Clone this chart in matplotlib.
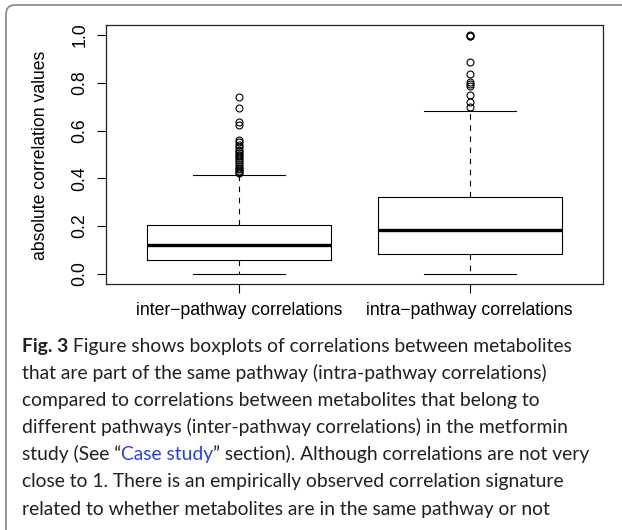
import matplotlib
matplotlib.use("Agg")
import matplotlib.pyplot as plt
from matplotlib.patches import FancyBboxPatch

# box statistics for the two groups
groups = ["inter\u2212pathway correlations", "intra\u2212pathway correlations"]
q1 = [0.059, 0.084]
medians = [0.121, 0.184]
q3 = [0.205, 0.323]
whisk_lo = [0.0, 0.0]
whisk_hi = [0.415, 0.683]
fliers_inter = [0.739, 0.696, 0.635, 0.625, 0.561, 0.552, 0.541, 0.530, 0.520,
                0.515, 0.508, 0.500, 0.492, 0.484, 0.476, 0.468, 0.460, 0.452,
                0.445, 0.438, 0.432, 0.426, 0.421]
fliers_intra = [1.0, 0.998, 0.996, 0.888, 0.836, 0.805, 0.795, 0.785, 0.749,
                0.721, 0.697]
yticks = [0.0, 0.2, 0.4, 0.6, 0.8, 1.0]

caption = [
    [("Fig. 3", "bold", "#231f20"),
     (" Figure shows boxplots of correlations between metabolites", "normal", "#231f20")],
    [("that are part of the same pathway (intra-pathway correlations)", "normal", "#231f20")],
    [("compared to correlations between metabolites that belong to", "normal", "#231f20")],
    [("different pathways (inter-pathway correlations) in the metformin", "normal", "#231f20")],
    [("study (See \u201c", "normal", "#231f20"), ("Case study", "normal", "#2a3cf0"),
     ("\u201d section). Although correlations are not very", "normal", "#231f20")],
    [("close to 1. There is an empirically observed correlation signature", "normal", "#231f20")],
    [("related to whether metabolites are in the same pathway or not", "normal", "#231f20")],
]

W, H = 622, 530
fig = plt.figure(figsize=(W / 100, H / 100), dpi=100)
fig.patch.set_facecolor("white")

# outer panel frame (only top and left edges fall inside the image)
frame = FancyBboxPatch((6, -30), 660, H - 5 + 30,
                       boxstyle="round,pad=0,rounding_size=9",
                       transform=None, fill=False, edgecolor="#8c8c8c",
                       linewidth=1.3, clip_on=False)
fig.add_artist(frame)

ax = fig.add_axes([106 / W, (H - 284) / H, 497 / W, 259 / H])

stats = []
fl = [fliers_inter, fliers_intra]
for i in range(2):
    stats.append(dict(med=medians[i], q1=q1[i], q3=q3[i],
                      whislo=whisk_lo[i], whishi=whisk_hi[i], fliers=fl[i]))

ax.bxp(stats, positions=[1, 2], widths=0.8, showfliers=True,
       boxprops=dict(color="black", linewidth=0.8),
       medianprops=dict(color="black", linewidth=2.4, solid_capstyle="butt"),
       whiskerprops=dict(color="black", linewidth=0.8, linestyle=(0, (5, 5))),
       capprops=dict(color="black", linewidth=0.8),
       capwidths=0.4,
       flierprops=dict(marker="o", markersize=5, markerfacecolor="none",
                       markeredgecolor="black", markeredgewidth=0.8))

fs = 12.7
ax.set_xlim(0.42, 2.58)
ax.set_ylim(-0.042, 1.042)
ax.set_xticks([1, 2])
ax.set_xticklabels(groups, fontsize=fs, family="Liberation Sans")
ax.set_yticks(yticks)
ax.set_yticklabels(["%.1f" % v for v in yticks], fontsize=fs,
                   family="Liberation Sans", rotation=90, va="center")
ax.tick_params(axis="y", length=6.5, width=0.8, pad=6)
ax.tick_params(axis="x", length=6.5, width=0.8, pad=6.5)
for s in ax.spines.values():
    s.set_linewidth(0.9)
    s.set_color("#222222")

fig.text(41 / W, (H - 155) / H, "absolute correlation values", rotation=90,
         ha="center", va="center", fontsize=fs, family="Liberation Sans")

# caption, laid out piece by piece so colours and weights can change mid-line
fig.canvas.draw()
renderer = fig.canvas.get_renderer()
x0 = 22
base = 352
step = 27.1
for k, line in enumerate(caption):
    x = x0
    y = H - (base + k * step)
    for txt, weight, col in line:
        t = fig.text(x / W, y / H, txt, fontsize=13.9, family="Lato",
                     weight=weight, color=col, ha="left", va="baseline")
        x += t.get_window_extent(renderer).width

fig.savefig("out.png", dpi=100)
